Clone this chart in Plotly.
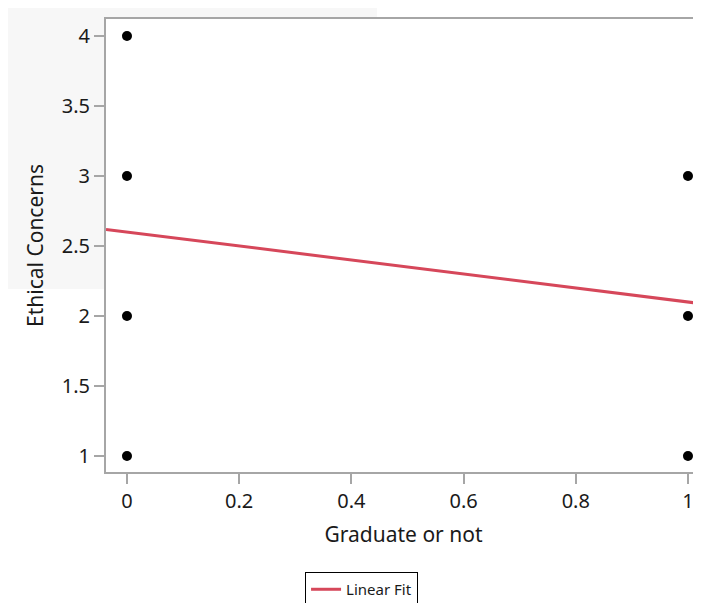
import plotly.graph_objects as go

# data
graduate = [0, 0, 0, 0, 1, 1, 1]
ethical = [4, 3, 2, 1, 3, 2, 1]
fit_intercept = 2.6
fit_slope = -0.5
x_range = [-0.0374, 1.0232]
y_range = [0.886, 4.121]

AXIS = "#a6a6a6"
FONT = "Noto Sans, Open Sans, sans-serif"

fit_x = x_range
fit_y = [fit_intercept + fit_slope * v for v in fit_x]

fig = go.Figure()
fig.add_trace(go.Scatter(
    x=graduate, y=ethical, mode="markers",
    marker=dict(color="black", size=10),
    showlegend=False, hoverinfo="x+y", cliponaxis=False,
))
fig.add_trace(go.Scatter(
    x=fit_x, y=fit_y, mode="lines",
    line=dict(color="#d6475a", width=3),
    name="Linear Fit",
))

# page body adds an 8px offset; figure sized to fit the window
fig.update_layout(
    width=693, height=595,
    margin=dict(l=98, r=0, t=11, b=131, autoexpand=False),
    paper_bgcolor="white", plot_bgcolor="rgba(0,0,0,0)",
    font=dict(family=FONT, size=20, color="#1a1a1a"),
    showlegend=True,
    legend=dict(
        orientation="h", x=0.4295, xanchor="center", y=-0.2208, yanchor="top",
        bordercolor="black", borderwidth=1, bgcolor="white",
        font=dict(size=15, color="#1a1a1a"),
    ),
    shapes=[
        dict(type="rect", xref="paper", yref="paper",
             x0=-0.1647, x1=0.4555, y0=0.404, y1=1.0331,
             fillcolor="#f7f7f7", line=dict(width=0), layer="below"),
        dict(type="rect", xref="paper", yref="paper",
             x0=0, x1=1, y0=0, y1=1,
             fillcolor="white", line=dict(width=0), layer="below"),
    ],
)
fig.update_xaxes(
    range=x_range, dtick=0.2, tick0=0, showgrid=False, zeroline=False,
    showline=True, linecolor=AXIS, linewidth=2, mirror=True, automargin=False,
    ticks="outside", ticklen=10, tickcolor=AXIS, tickwidth=2,
    tickfont=dict(size=20),
    title=dict(text="Graduate or not", font=dict(size=21), standoff=14),
)
fig.update_yaxes(
    range=y_range, dtick=0.5, tick0=1, showgrid=False, zeroline=False,
    showline=True, linecolor=AXIS, linewidth=2, mirror=False, automargin=False,
    ticks="outside", ticklen=10, tickcolor=AXIS, tickwidth=2,
    tickfont=dict(size=20),
    title=dict(text="Ethical Concerns", font=dict(size=21), standoff=12),
)

fig.write_html("out.html")
